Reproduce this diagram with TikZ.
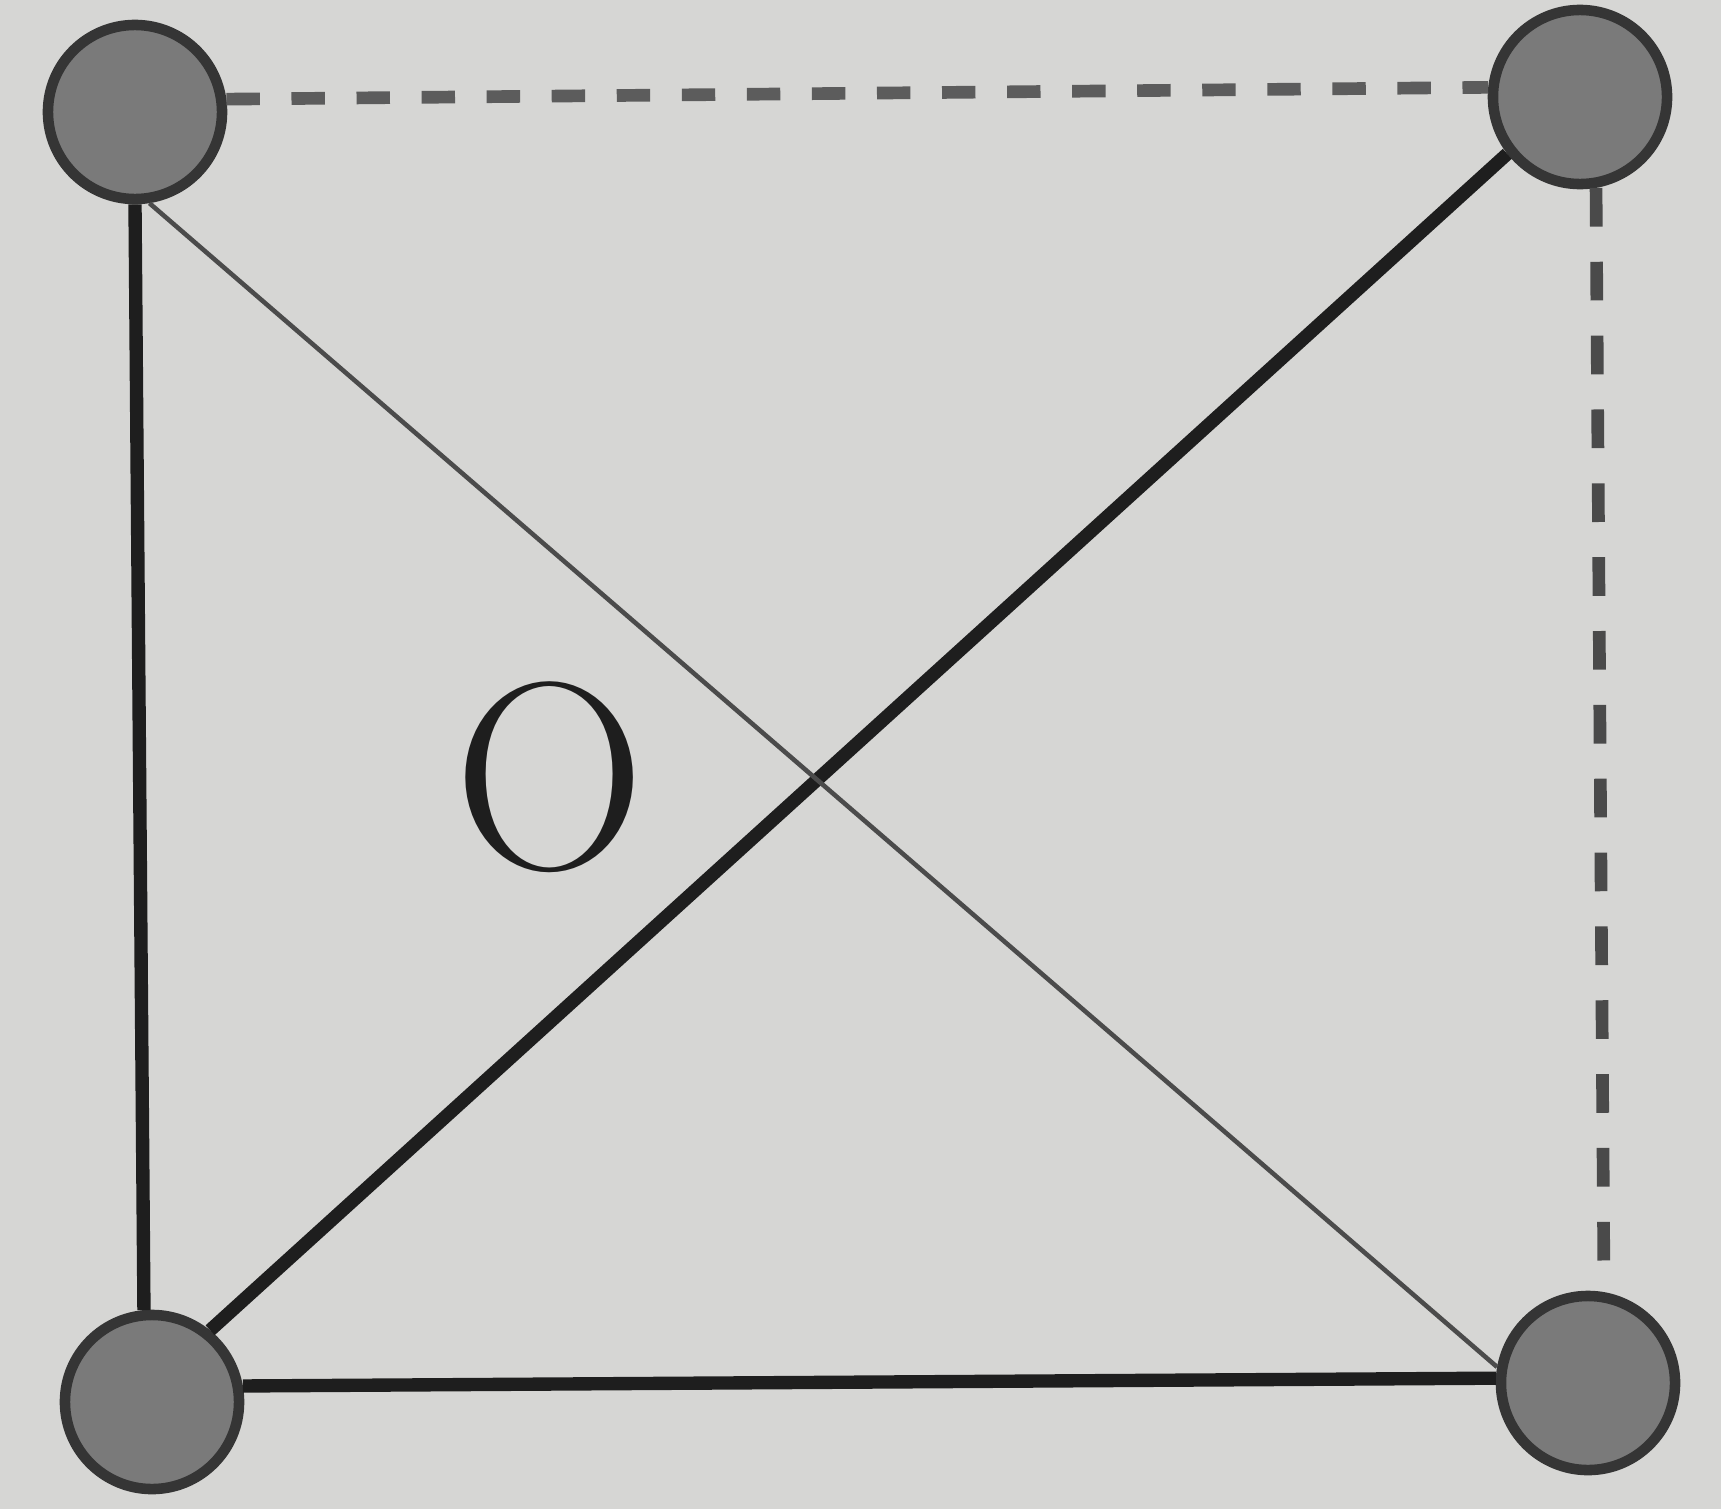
\documentclass[tikz,border=0pt]{standalone}
\usepackage{tikz}
\usetikzlibrary{positioning}
\definecolor{ink}{HTML}{1E1E1E}
\definecolor{paper}{HTML}{D6D6D4}
\definecolor{dot}{HTML}{7A7A7A}
\definecolor{dash}{HTML}{5C5C5C}

\begin{document}
\begin{tikzpicture}[
    x=0.01cm, y=-0.01cm,
    vertex/.style={circle, fill=dot, draw=ink!90, line width=3pt, minimum size=1.74cm, inner sep=0pt},
    edge/.style={draw=ink, line width=3.8pt},
    thinedge/.style={draw=ink!80, line width=1.3pt},
    dashedge/.style={draw=dash, line width=3.6pt, dash pattern=on 9.5pt off 9pt}
  ]
        \fill[paper] (0,0) rectangle (1721,1509);
        \useasboundingbox (0,0) rectangle (1721,1509);
        % corners
        \node[vertex] (tl) at (135,112) {};
        \node[vertex] (tr) at (1580,97) {};
        \node[vertex] (bl) at (152,1402) {};
        \node[vertex] (br) at (1588,1383) {};
        \node[text=ink, font=\fontsize{76}{76}\selectfont] (o) at (550,777) {O};
        % sides and diagonals
        \draw[edge] (tl.-90) -- (bl.95);
        \draw[edge] (bl.10) -- (br.177);
        \draw[edge] (bl.51) -- (tr.218);
        \draw[thinedge] (tl.-81) -- (br.170);
        \draw[dashedge] (tl.8) -- (tr.174);
        \draw[dashedge, draw=dash!80!black, dash pattern=on 11pt off 10pt] (tr.-80) -- (br.80);
      \end{tikzpicture}
\end{document}
